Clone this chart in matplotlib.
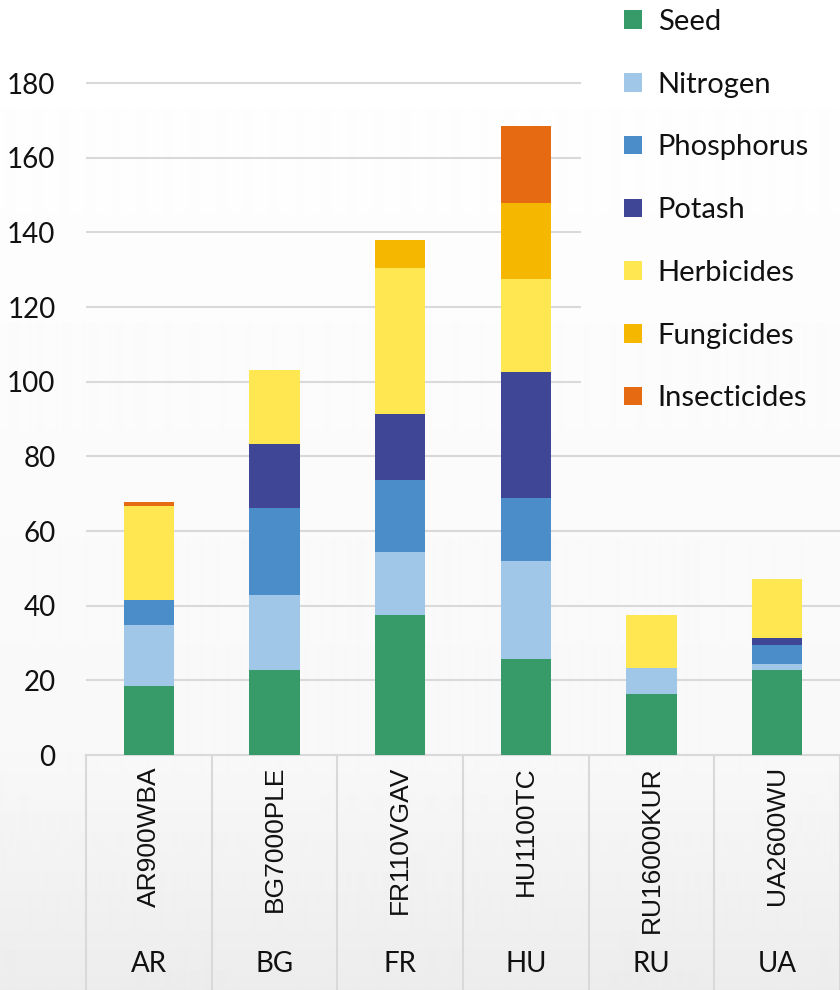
import numpy as np
import matplotlib
matplotlib.use("Agg")
import matplotlib.pyplot as plt

# cost per hectare by input, stacked per farm
farms = ["AR900WBA", "BG7000PLE", "FR110VGAV", "HU1100TC", "RU16000KUR", "UA2600WU"]
countries = ["AR", "BG", "FR", "HU", "RU", "UA"]
series = ["Seed", "Nitrogen", "Phosphorus", "Potash", "Herbicides", "Fungicides", "Insecticides"]

seed = [18.5, 22.8, 37.6, 25.7, 16.3, 22.9]
nitrogen = [16.2, 20.0, 16.8, 26.3, 6.9, 1.6]
phosphorus = [6.8, 23.3, 19.2, 16.9, 0.0, 5.0]
potash = [0.0, 17.2, 17.7, 33.7, 0.0, 1.8]
herbicides = [25.1, 19.8, 39.2, 24.9, 14.4, 15.8]
fungicides = [0.0, 0.0, 7.5, 20.4, 0.0, 0.0]
insecticides = [1.2, 0.0, 0.0, 20.7, 0.0, 0.0]

colors = ["#379a69", "#a0c6e8", "#4a8dc9", "#3e4695", "#fee751", "#f5b700", "#e56a12"]
yticks = [0, 20, 40, 60, 80, 100, 120, 140, 160, 180]

W, H = 840, 990
fig = plt.figure(figsize=(W / 100, H / 100), dpi=100)

# light grey gradient behind everything
bg = fig.add_axes([0, 0, 1, 1], zorder=-10)
rows = np.arange(H)
shade = np.where(rows < 755, 255 - 7 * rows / 755.0, 248 - 12 * (rows - 755) / 235.0) / 255.0
bg.imshow(shade[:, None], cmap="gray", vmin=0, vmax=1, aspect="auto", extent=[0, 1, 0, 1],
          interpolation="bilinear")
bg.axis("off")

px = 3.7333  # pixels per unit
ytop = 185
ax_top = 755 - ytop * px
ax = fig.add_axes([86 / W, 1 - 755 / H, 1 - 86 / W, (755 - ax_top) / H])
ax.set_facecolor("none")
ax.set_xlim(-0.5, 5.5)
ax.set_ylim(0, ytop)

x = np.arange(len(farms))
bottom = np.zeros(len(farms))
data = [seed, nitrogen, phosphorus, potash, herbicides, fungicides, insecticides]
for name, vals, col in zip(series, data, colors):
    ax.bar(x, vals, width=0.4, bottom=bottom, color=col, label=name, linewidth=0, zorder=3)
    bottom += np.array(vals)

# gridlines, the upper ones stop where the legend starts
cut = (580 - 86) / (W - 86)
for t in yticks[1:]:
    ax.axhline(t, xmin=0, xmax=cut if t >= 100 else 1, color="#d9d9d9", lw=1.5, zorder=1)
ax.axhline(0, color="#d9d9d9", lw=1.5, zorder=2, clip_on=False)

for s in ax.spines.values():
    s.set_visible(False)
ax.set_yticks(yticks)
ax.set_yticklabels([str(t) for t in yticks], fontsize=20, family="Lato", color="#111111")
ax.tick_params(axis="y", length=0, pad=22)
ax.set_xticks([])

# two level category axis
trans = ax.get_xaxis_transform()
ah = 755 - ax_top
for i in range(len(farms) + 1):
    ax.plot([i - 0.5, i - 0.5], [0, -240 / ah], transform=trans, color="#d9d9d9",
            lw=1.5, clip_on=False)
for i, (f, c) in enumerate(zip(farms, countries)):
    ax.text(i, -11 / ah, f, transform=trans, rotation=90, ha="center", va="top",
            fontsize=19, family="Liberation Sans", color="#111111")
    ax.text(i, -209 / ah, c, transform=trans, ha="center", va="center",
            fontsize=20, family="Lato", color="#111111")

leg = ax.legend(loc="upper left", bbox_to_anchor=(621 / W, 1 - 6 / H),
                bbox_transform=fig.transFigure, frameon=False, prop={"family": "Lato", "size": 21},
                handlelength=0.61, handleheight=0.61, handletextpad=0.55, labelspacing=1.26,
                borderpad=0.1, borderaxespad=0)
for t in leg.get_texts():
    t.set_color("#111111")

fig.savefig("out.png", dpi=100)
